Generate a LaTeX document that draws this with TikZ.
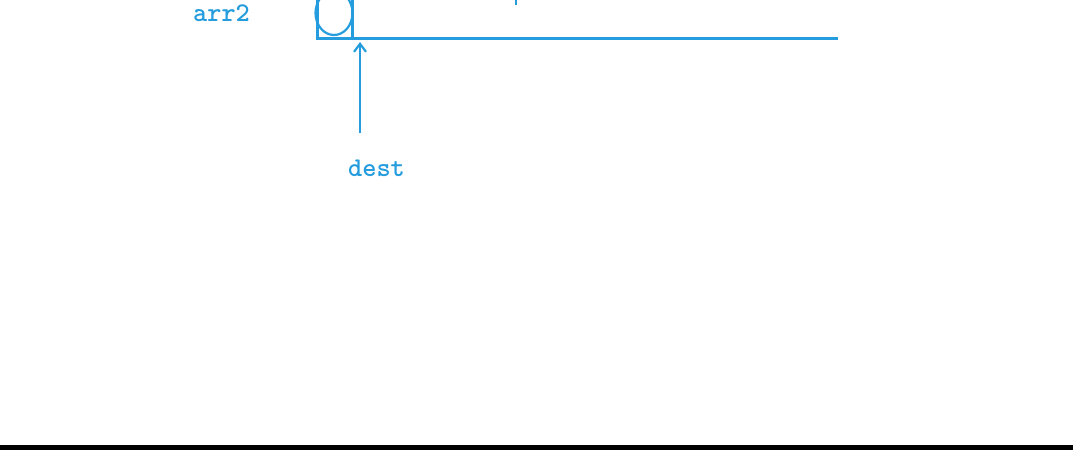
\documentclass[tikz,border=0pt]{standalone}
\usetikzlibrary{arrows.meta}
\definecolor{pen}{RGB}{36,156,222}
\tikzset{
  ink/.style={draw=pen, line width=3pt},
  lbl/.style={text=pen, font=\ttfamily\bfseries\fontsize{27}{30}\selectfont, inner sep=0pt, anchor=base west},
  thin/.style={draw=pen, line width=2.2pt}
}
\begin{document}
\begin{tikzpicture}[x=1pt,y=-1pt]
\useasboundingbox (0,0) rectangle (1073,450);
% labels
\node[lbl] (arr) at (193,21) {arr2};
\node[lbl] (dest) at (348,176) {dest};
% box
\coordinate (bl) at (317,38);
\coordinate (br) at (352,38);
\coordinate (end) at (838,38);
\draw[ink] (317,0) -- (bl) -- (end);
\draw[ink] (352,0) -- (br);
% hand drawn circle
\draw[thin] (334,13) ellipse [x radius=18.5, y radius=22];
% arrow to dest
\coordinate (tip) at (360,42);
\coordinate (tail) at (360,133);
\draw[thin, -{Straight Barb[length=8pt,width=12pt]}] (tail) -- (tip);
% cut-off tick at top
\draw[thin] (516,0) -- (516,5);
% bottom bar
\fill[black] (0,445) rectangle (1073,450);
\end{tikzpicture}
\end{document}
